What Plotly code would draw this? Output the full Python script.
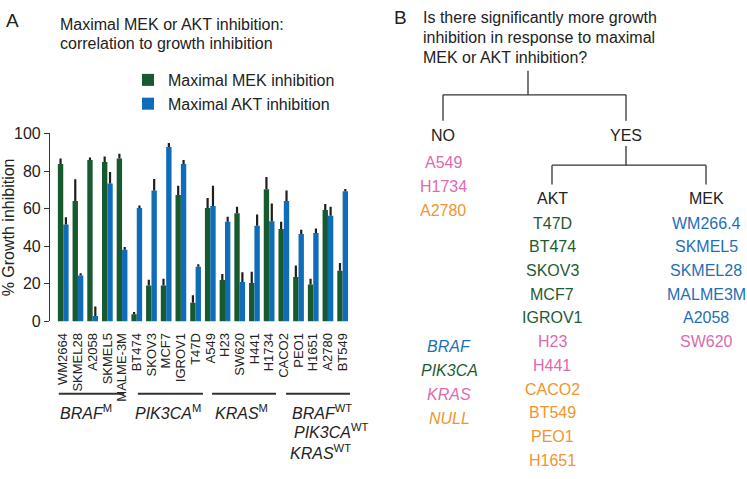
import plotly.graph_objects as go

# ---------------- data (panel A) ----------------
cell_lines = ["WM2664", "SKMEL28", "A2058", "SKMEL5", "MALME-3M",
              "BT474", "SKOV3", "MCF7", "IGROV1", "T47D",
              "A549", "H23", "SW620", "H441", "H1734",
              "CACO2", "PEO1", "H1651", "A2780", "BT549"]
mek_inhibition = [83.7, 64.1, 85.8, 84.8, 86.7, 3.9, 19.1, 19.1, 67.2, 10.0,
                  60.3, 22.0, 57.6, 20.5, 70.3, 49.1, 23.6, 19.6, 59.3, 27.0]
mek_error = [3.0, 11.5, 1.4, 2.9, 2.5, 1.2, 3.1, 3.6, 4.9, 4.0,
             5.3, 3.3, 3.4, 6.0, 6.5, 3.9, 6.2, 3.1, 3.1, 4.1]
akt_inhibition = [51.6, 24.4, 2.9, 73.3, 38.1, 60.3, 69.7, 92.8, 83.7, 29.1,
                  61.4, 53.0, 21.0, 50.9, 53.3, 64.1, 46.5, 47.0, 56.2, 69.2]
akt_error = [3.8, 1.2, 5.1, 6.2, 1.5, 1.4, 6.0, 2.1, 2.1, 1.3,
             10.7, 2.7, 5.2, 6.0, 9.4, 5.5, 2.2, 2.4, 4.8, 1.2]
y_ticks = [0, 20, 40, 60, 80, 100]

# mutation groups: label lines shown under each bracket
group_labels = [["<i>BRAF</i><sup>M</sup>"],
                ["<i>PIK3CA</i><sup>M</sup>"],
                ["<i>KRAS</i><sup>M</sup>"],
                ["<i>BRAF</i><sup>WT</sup>", "<i>PIK3CA</i><sup>WT</sup>", "<i>KRAS</i><sup>WT</sup>"]]

title_a = ["Maximal MEK or AKT inhibition:", "correlation to growth inhibition"]
question_b = ["Is there significantly more growth",
              "inhibition in response to maximal",
              "MEK or AKT inhibition?"]

# ---------------- data (panel B) ----------------
no_lines = ["A549", "H1734", "A2780"]
no_types = ["KRAS", "KRAS", "NULL"]
akt_lines = ["T47D", "BT474", "SKOV3", "MCF7", "IGROV1", "H23", "H441",
             "CACO2", "BT549", "PEO1", "H1651"]
akt_types = ["PIK3CA"] * 5 + ["KRAS"] * 2 + ["NULL"] * 4
mek_lines = ["WM266.4", "SKMEL5", "SKMEL28", "MALME3M", "A2058", "SW620"]
mek_types = ["BRAF"] * 5 + ["KRAS"]
mutation_legend = ["BRAF", "PIK3CA", "KRAS", "NULL"]

# ---------------- layout constants ----------------
GREEN = "#175a2f"
BLUE = "#0f6cb8"
type_colors = {"BRAF": "#1f6fb6", "PIK3CA": "#1d5c34", "KRAS": "#dc6aae", "NULL": "#f0952e"}
# bracket extents (category units) and label anchors for the groups
bracket_spans = [(-0.3, 4.15), (5.08, 9.5), (10.12, 14.47), (15.15, 19.57)]
label_starts = [[-0.35], [4.74], [10.18], [15.42, 15.56, 15.28]]
label_rows = [419, 439, 460]

W, H = 747, 479
FONT = "Liberation Sans, Arial, Helvetica, sans-serif"


def px(x):
    return x / W


def py(y):
    return 1 - y / H


x_idx = list(range(len(cell_lines)))

fig = go.Figure()
fig.add_trace(go.Bar(
    x=x_idx, y=mek_inhibition, name="Maximal MEK inhibition",
    marker=dict(color=GREEN, line=dict(width=0)),
    error_y=dict(type="data", symmetric=False, array=mek_error,
                 arrayminus=[0] * len(mek_error), color="#1e1e1e",
                 thickness=2.2, width=0)))
fig.add_trace(go.Bar(
    x=x_idx, y=akt_inhibition, name="Maximal AKT inhibition",
    marker=dict(color=BLUE, line=dict(width=0)),
    error_y=dict(type="data", symmetric=False, array=akt_error,
                 arrayminus=[0] * len(akt_error), color="#1e1e1e",
                 thickness=2.2, width=0)))

shapes = []
annotations = []

# group brackets and labels under the x axis
for (x0, x1), labels, starts in zip(bracket_spans, group_labels, label_starts):
    shapes.append(dict(type="line", xref="x", yref="paper",
                       x0=x0, x1=x1, y0=py(400), y1=py(400),
                       line=dict(color="#333333", width=2)))
    for k, (lab, xs) in enumerate(zip(labels, starts)):
        annotations.append(dict(xref="x", yref="paper", x=xs,
                                y=py(label_rows[k]), text=lab, showarrow=False,
                                xanchor="left", yanchor="middle",
                                font=dict(size=16, color="#222222")))


def text_at(x, y, text, size=16, color="#222222", xanchor="left", style="normal"):
    annotations.append(dict(xref="paper", yref="paper", x=px(x), y=py(y),
                            text=text, showarrow=False,
                            xanchor=xanchor, yanchor="middle",
                            font=dict(size=size, color=color, style=style)))


# panel titles
text_at(4, 13, "A", size=19)
for k, line in enumerate(title_a):
    text_at(58, 17 + 20 * k, line)
text_at(392, 10, "B", size=19)
for k, line in enumerate(question_b):
    text_at(421, 10 + 20.5 * k, line)

# tree lines
tree = [((528, 65), (528, 90)), ((443, 90), (626, 90)),
        ((443, 90), (443, 117)), ((626, 90), (626, 117)),
        ((626, 143), (626, 163)), ((552, 163), (706, 163)),
        ((552, 163), (552, 183)), ((706, 163), (706, 183))]
for (x0, y0), (x1, y1) in tree:
    shapes.append(dict(type="line", xref="paper", yref="paper",
                       x0=px(x0), y0=py(y0), x1=px(x1), y1=py(y1),
                       line=dict(color="#333333", width=1.3)))

text_at(443, 132, "NO", xanchor="center")
text_at(626, 132, "YES", xanchor="center")
text_at(552, 197, "AKT", xanchor="center")
text_at(706, 197, "MEK", xanchor="center")
for k, (n, t) in enumerate(zip(no_lines, no_types)):
    text_at(443, 160 + 24.8 * k, n, color=type_colors[t], xanchor="center")
for k, (n, t) in enumerate(zip(akt_lines, akt_types)):
    text_at(552, 223 + 24.6 * k, n, color=type_colors[t], xanchor="center")
for k, (n, t) in enumerate(zip(mek_lines, mek_types)):
    text_at(706, 223 + 24.6 * k, n, color=type_colors[t], xanchor="center")
for k, t in enumerate(mutation_legend):
    text_at(449, 351 + 25 * k, t, color=type_colors[t], xanchor="center", style="italic")

fig.update_layout(
    width=W, height=H,
    margin=dict(l=0, r=0, t=0, b=0),
    paper_bgcolor="white", plot_bgcolor="white",
    font=dict(family=FONT, size=16, color="#222222"),
    barmode="group", bargap=0.27, bargroupgap=0,
    showlegend=True,
    legend=dict(x=px(128), y=py(57), xanchor="left", yanchor="top",
                font=dict(size=16, color="#222222"), tracegroupgap=0,
                bgcolor="rgba(0,0,0,0)", itemclick=False),
    xaxis=dict(domain=[px(50), px(350)], range=[-0.9, 19.5],
               tickmode="array", tickvals=x_idx, ticktext=cell_lines,
               tickangle=-90, showline=False, showgrid=False, zeroline=False,
               ticks="", ticklabelstandoff=8,
               tickfont=dict(size=13, color="#222222")),
    yaxis=dict(domain=[py(325), py(130)], range=[0, 100],
               tickmode="array", tickvals=y_ticks,
               showline=True, linecolor="#333333", linewidth=1.2,
               ticks="outside", ticklen=5, tickcolor="#333333", tickwidth=1.2,
               showgrid=False, zeroline=False,
               tickfont=dict(size=16, color="#222222"),
               title=dict(text="% Growth inhibition", standoff=0,
                          font=dict(size=16, color="#222222"))),
    shapes=shapes, annotations=annotations,
)

fig.write_html("out.html", config={"displayModeBar": False},
               post_script="document.body.style.margin='0';")
